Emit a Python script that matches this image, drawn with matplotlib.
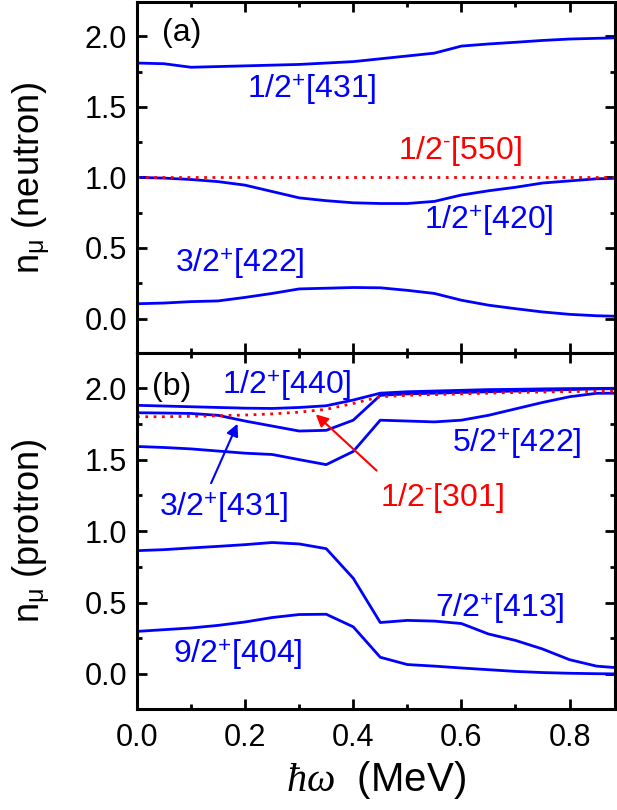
import numpy as np
import matplotlib
matplotlib.use('Agg')
from matplotlib import pyplot as plt

plt.rcParams['font.family'] = ['Liberation Sans', 'DejaVu Sans']
plt.rcParams['mathtext.fontset'] = 'custom'
plt.rcParams['mathtext.rm'] = 'Liberation Sans'
plt.rcParams['mathtext.it'] = 'Liberation Serif:italic'
plt.rcParams['mathtext.bf'] = 'Liberation Sans:bold'

# rotational frequency (MeV)
hw = [0.0, 0.05, 0.1, 0.15, 0.2, 0.25, 0.3, 0.35, 0.4, 0.45,
      0.5, 0.55, 0.6, 0.65, 0.7, 0.75, 0.8, 0.85, 0.9]

# (a) neutron occupation numbers
n_431 = [1.81, 1.805, 1.78, 1.785, 1.79, 1.795, 1.80, 1.81, 1.82, 1.84,
         1.86, 1.88, 1.93, 1.945, 1.957, 1.97, 1.98, 1.985, 1.99]
n_420 = [1.0, 0.995, 0.985, 0.97, 0.945, 0.90, 0.855, 0.835, 0.82, 0.815,
         0.815, 0.83, 0.875, 0.905, 0.93, 0.96, 0.975, 0.99, 0.995]
n_422 = [0.105, 0.11, 0.12, 0.125, 0.15, 0.178, 0.21, 0.215, 0.22, 0.218,
         0.20, 0.178, 0.13, 0.095, 0.07, 0.047, 0.03, 0.02, 0.015]
n_550 = [1.0, 1.0, 1.0, 1.0, 1.0, 1.0, 1.0, 1.0, 1.0, 1.0,
         1.0, 1.0, 1.0, 1.0, 1.0, 1.0, 1.0, 1.0, 1.0]

# (b) proton occupation numbers
p_440 = [1.88, 1.875, 1.87, 1.865, 1.86, 1.858, 1.865, 1.877, 1.917, 1.965,
         1.975, 1.98, 1.985, 1.99, 1.992, 1.995, 1.997, 1.998, 2.0]
p_431 = [1.828, 1.826, 1.823, 1.81, 1.77, 1.735, 1.70, 1.705, 1.776, 1.95,
         1.96, 1.965, 1.97, 1.975, 1.98, 1.985, 1.99, 1.995, 1.997]
p_301 = [1.80, 1.80, 1.803, 1.807, 1.812, 1.82, 1.832, 1.852, 1.893, 1.94,
         1.95, 1.955, 1.96, 1.965, 1.97, 1.973, 1.976, 1.978, 1.98]
p_422 = [1.592, 1.585, 1.575, 1.56, 1.545, 1.536, 1.50, 1.465, 1.557, 1.776,
         1.77, 1.764, 1.776, 1.81, 1.855, 1.90, 1.94, 1.964, 1.965]
p_413 = [0.863, 0.87, 0.882, 0.893, 0.905, 0.92, 0.91, 0.877, 0.67, 0.36,
         0.375, 0.37, 0.353, 0.28, 0.235, 0.175, 0.10, 0.055, 0.04]
p_404 = [0.298, 0.31, 0.322, 0.34, 0.364, 0.395, 0.416, 0.418, 0.33, 0.117,
         0.066, 0.055, 0.042, 0.03, 0.018, 0.01, 0.005, 0.002, 0.0]

blue = (0, 0, 1)
red = (1, 0, 0)
lw = 2.0
dots = (0, (1, 2))

fig = plt.figure(figsize=(6.17, 8.10), dpi=100)
ax1 = fig.add_axes([0.222, 0.564, 0.7755, 0.434])
ax2 = fig.add_axes([0.222, 0.1247, 0.7755, 0.4393])

ax1.plot(hw, n_431, color=blue, lw=lw)
ax1.plot(hw, n_420, color=blue, lw=lw)
ax1.plot(hw, n_422, color=blue, lw=lw)
ax1.plot(hw, n_550, color=red, lw=lw, ls=dots)

ax2.plot(hw, p_440, color=blue, lw=lw)
ax2.plot(hw, p_431, color=blue, lw=lw)
ax2.plot(hw, p_422, color=blue, lw=lw)
ax2.plot(hw, p_413, color=blue, lw=lw)
ax2.plot(hw, p_404, color=blue, lw=lw)
ax2.plot(hw, p_301, color=red, lw=lw, ls=dots)

fs_lab = 23
ax1.text(0.046, 2.02, '(a)', fontsize=fs_lab, va='center')
ax1.text(0.203, 1.563, '1/2$^{+}$[431]', fontsize=fs_lab, color=blue)
ax1.text(0.483, 1.127, r'1/2$^{\text{-}}$[550]', fontsize=fs_lab, color=red)
ax1.text(0.53, 0.635, '1/2$^{+}$[420]', fontsize=fs_lab, color=blue)
ax1.text(0.07, 0.335, '3/2$^{+}$[422]', fontsize=fs_lab, color=blue)

ax2.text(0.028, 2.006, '(b)', fontsize=fs_lab, va='center')
ax2.text(0.157, 1.964, '1/2$^{+}$[440]', fontsize=fs_lab, color=blue)
ax2.text(0.583, 1.553, '5/2$^{+}$[422]', fontsize=fs_lab, color=blue)
ax2.text(0.45, 1.176, r'1/2$^{\text{-}}$[301]', fontsize=fs_lab, color=red)
ax2.text(0.04, 1.105, '3/2$^{+}$[431]', fontsize=fs_lab, color=blue)
ax2.text(0.552, 0.40, '7/2$^{+}$[413]', fontsize=fs_lab, color=blue)
ax2.text(0.067, 0.082, '9/2$^{+}$[404]', fontsize=fs_lab, color=blue)

ax2.annotate('', xy=(0.188, 1.769), xytext=(0.135, 1.317),
             arrowprops=dict(arrowstyle='-|>', color=blue, lw=1.5, mutation_scale=18))
ax2.annotate('', xy=(0.327, 1.83), xytext=(0.447, 1.41),
             arrowprops=dict(arrowstyle='-|>', color=red, lw=1.5, mutation_scale=18))

for ax in (ax1, ax2):
    ax.set_xlim(0, 0.885)
    ax.set_ylim(-0.245, 2.245)
    ax.set_xticks([0.0, 0.2, 0.4, 0.6, 0.8])
    ax.set_xticks([0.1, 0.3, 0.5, 0.7], minor=True)
    ax.set_yticks([0.0, 0.5, 1.0, 1.5, 2.0])
    ax.set_yticks([0.25, 0.75, 1.25, 1.75], minor=True)
    ax.tick_params(which='both', direction='in', top=True, right=True, width=2)
    ax.tick_params(which='major', length=7, labelsize=22, pad=7)
    ax.tick_params(which='minor', length=3.5)
    for s in ax.spines.values():
        s.set_linewidth(2.2)
    ax.set_yticklabels(['0.0', '0.5', '1.0', '1.5', '2.0'])

ax1.tick_params(labelbottom=False)
ax2.set_xticklabels(['0.0', '0.2', '0.4', '0.6', '0.8'])
ax2.tick_params(axis='x', pad=10)

ax1.set_ylabel(r'n$_{\mathrm{\mu}}$ (neutron)', fontsize=26)
ax2.set_ylabel(r'n$_{\mathrm{\mu}}$ (protron)', fontsize=26)
ax1.yaxis.set_label_coords(-0.178, 0.5)
ax2.yaxis.set_label_coords(-0.178, 0.5)
ax2.set_xlabel(r'$\hbar\omega$  (MeV)', fontsize=29)
ax2.xaxis.set_label_coords(0.5, -0.14)

plt.savefig('out.png', dpi=100)
